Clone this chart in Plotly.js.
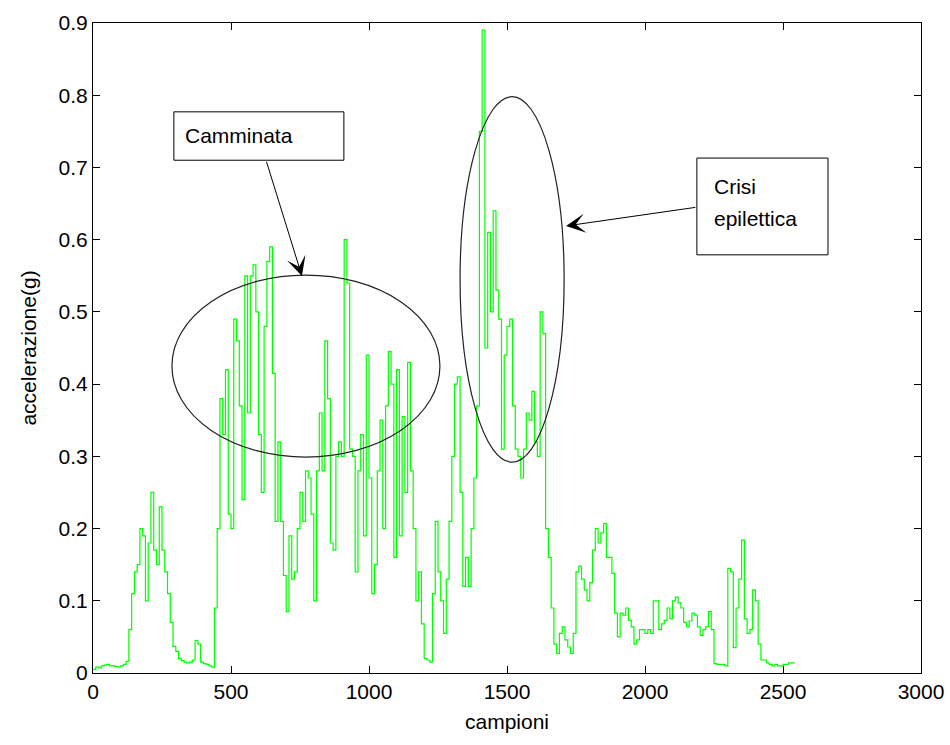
<!DOCTYPE html>
<html>
<head>
<meta charset="utf-8">
<script src="https://cdn.plot.ly/plotly-3.0.1.min.js"></script>
<style>
html, body { margin: 0; padding: 0; background: #ffffff; }
#chart { width: 950px; height: 745px; }
</style>
</head>
<body>
<div id="chart"></div>
<script>
// Acceleration (g), one value every 10 samples, starting at sample 0
const restStart = [0.005, 0.008, 0.007, 0.01, 0.011, 0.012, 0.01, 0.01, 0.009, 0.008,
  0.01, 0.012, 0.016, 0.06, 0.11, 0.14, 0.15, 0.2, 0.19, 0.1,
  0.18, 0.25, 0.17, 0.15, 0.23, 0.17, 0.14, 0.11, 0.07, 0.037,
  0.03, 0.02, 0.017, 0.015, 0.014, 0.015, 0.018, 0.045, 0.04, 0.015,
  0.013, 0.012, 0.01, 0.008, 0.09];
const walking = [0.2, 0.38, 0.33, 0.42, 0.22, 0.2, 0.49, 0.46, 0.37, 0.24,
  0.55, 0.36, 0.55, 0.565, 0.5, 0.33, 0.25, 0.48, 0.57, 0.59,
  0.415, 0.21, 0.32, 0.21, 0.135, 0.085, 0.19, 0.13, 0.14, 0.2,
  0.25, 0.21, 0.28, 0.27, 0.22, 0.1, 0.28, 0.36, 0.28, 0.46,
  0.38, 0.18, 0.17, 0.3, 0.32, 0.3, 0.6, 0.54, 0.31, 0.3,
  0.14, 0.28, 0.33, 0.19, 0.44, 0.27, 0.11, 0.15, 0.28, 0.35,
  0.2, 0.37, 0.445, 0.4, 0.16, 0.42, 0.19, 0.355, 0.25, 0.43,
  0.28, 0.2, 0.1, 0.14, 0.068, 0.02, 0.018, 0.015, 0.11, 0.21,
  0.14, 0.1, 0.055, 0.13, 0.21, 0.3, 0.4, 0.41];
const seizure = [0.25, 0.12, 0.16, 0.12, 0.2, 0.27, 0.37, 0.75, 0.89, 0.45,
  0.61, 0.5, 0.64, 0.53, 0.49, 0.31, 0.44, 0.48, 0.49, 0.37,
  0.31, 0.3, 0.27, 0.31, 0.36, 0.35, 0.39, 0.32, 0.3, 0.5,
  0.47, 0.2];
const recovery = [0.16, 0.09, 0.04, 0.027, 0.055, 0.064, 0.046, 0.036, 0.027, 0.055,
  0.14, 0.148, 0.13, 0.115, 0.1, 0.125, 0.17, 0.2, 0.18, 0.194,
  0.207, 0.16, 0.16, 0.138, 0.083, 0.05, 0.083, 0.08, 0.09, 0.073,
  0.064, 0.04, 0.046, 0.06, 0.06, 0.055, 0.06, 0.055, 0.1, 0.1,
  0.06, 0.068, 0.073, 0.09, 0.075, 0.1, 0.105, 0.097, 0.09, 0.07,
  0.064, 0.072, 0.083, 0.08, 0.064, 0.052, 0.06, 0.064, 0.085, 0.06,
  0.013, 0.012, 0.012, 0.012, 0.01, 0.145, 0.14, 0.035, 0.09, 0.13,
  0.184, 0.075, 0.055, 0.06, 0.115, 0.1, 0.04, 0.018, 0.018, 0.014,
  0.012, 0.01, 0.012, 0.01, 0.01, 0.012, 0.012, 0.014, 0.014, 0.015];
const accel = restStart.concat(walking, seizure, recovery);

const xTickVals = [0, 500, 1000, 1500, 2000, 2500, 3000];
const xTickText = ['0', '500', '1000', '1500', '2000', '2500', '3000'];
const yTickVals = [0, 0.1, 0.2, 0.3, 0.4, 0.5, 0.6, 0.7, 0.8, 0.9];
const yTickText = ['0', '0.1', '0.2', '0.3', '0.4', '0.5', '0.6', '0.7', '0.8', '0.9'];

const FONT = 'Liberation Sans, Arial, sans-serif';

const trace = {
  type: 'scatter',
  mode: 'lines',
  x0: 0,
  dx: 10,
  y: accel,
  line: { color: '#00ff00', width: 1.2, shape: 'hv' },
  hoverinfo: 'skip'
};

const axisCommon = {
  showline: true, linecolor: '#000', linewidth: 1, mirror: 'ticks',
  ticks: 'inside', ticklen: 7, tickwidth: 1, tickcolor: '#000',
  showgrid: false, zeroline: false,
  tickfont: { family: FONT, size: 21, color: '#000' }
};

const layout = {
  width: 950, height: 745,
  margin: { l: 93, r: 29, t: 23, b: 72 },
  paper_bgcolor: '#ffffff', plot_bgcolor: '#ffffff',
  showlegend: false,
  xaxis: Object.assign({}, axisCommon, {
    range: [0, 3000], tickmode: 'array', tickvals: xTickVals, ticktext: xTickText,
    title: { text: 'campioni', font: { family: FONT, size: 21, color: '#000' }, standoff: 12 }
  }),
  yaxis: Object.assign({}, axisCommon, {
    range: [0, 0.9], tickmode: 'array', tickvals: yTickVals, ticktext: yTickText,
    title: { text: 'accelerazione(g)', font: { family: FONT, size: 21, color: '#000' }, standoff: 16 }
  }),
  shapes: [
    { type: 'circle', xref: 'x', yref: 'y', x0: 286, x1: 1257, y0: 0.299, y1: 0.551,
      line: { color: '#222', width: 1.2 } },
    { type: 'circle', xref: 'x', yref: 'y', x0: 1330, x1: 1707, y0: 0.292, y1: 0.798,
      line: { color: '#222', width: 1.2 } },
    { type: 'rect', xref: 'x', yref: 'y', x0: 293, x1: 909, y0: 0.710, y1: 0.777,
      line: { color: '#000', width: 1 }, fillcolor: '#ffffff' },
    { type: 'rect', xref: 'x', yref: 'y', x0: 2188, x1: 2663, y0: 0.579, y1: 0.713,
      line: { color: '#000', width: 1 }, fillcolor: '#ffffff' }
  ],
  annotations: [
    { text: 'Camminata', xref: 'x', yref: 'y', x: 326, y: 0.7436, xanchor: 'left', yanchor: 'middle',
      showarrow: false, font: { family: FONT, size: 21, color: '#000' } },
    { text: 'Crisi', xref: 'x', yref: 'y', x: 2243, y: 0.674, xanchor: 'left', yanchor: 'middle',
      showarrow: false, font: { family: FONT, size: 21, color: '#000' } },
    { text: 'epilettica', xref: 'x', yref: 'y', x: 2243, y: 0.630, xanchor: 'left', yanchor: 'middle',
      showarrow: false, font: { family: FONT, size: 21, color: '#000' } },
    { text: '', xref: 'x', yref: 'y', x: 757, y: 0.5497, axref: 'x', ayref: 'y', ax: 627, ay: 0.710,
      showarrow: true, arrowhead: 3, arrowsize: 3.2, arrowwidth: 1, arrowcolor: '#000', standoff: 0 },
    { text: '', xref: 'x', yref: 'y', x: 1714, y: 0.619, axref: 'x', ayref: 'y', ax: 2188, ay: 0.645,
      showarrow: true, arrowhead: 3, arrowsize: 3.2, arrowwidth: 1, arrowcolor: '#000', standoff: 0 }
  ]
};

Plotly.newPlot('chart', [trace], layout, { staticPlot: true, displayModeBar: false });
</script>
</body>
</html>
